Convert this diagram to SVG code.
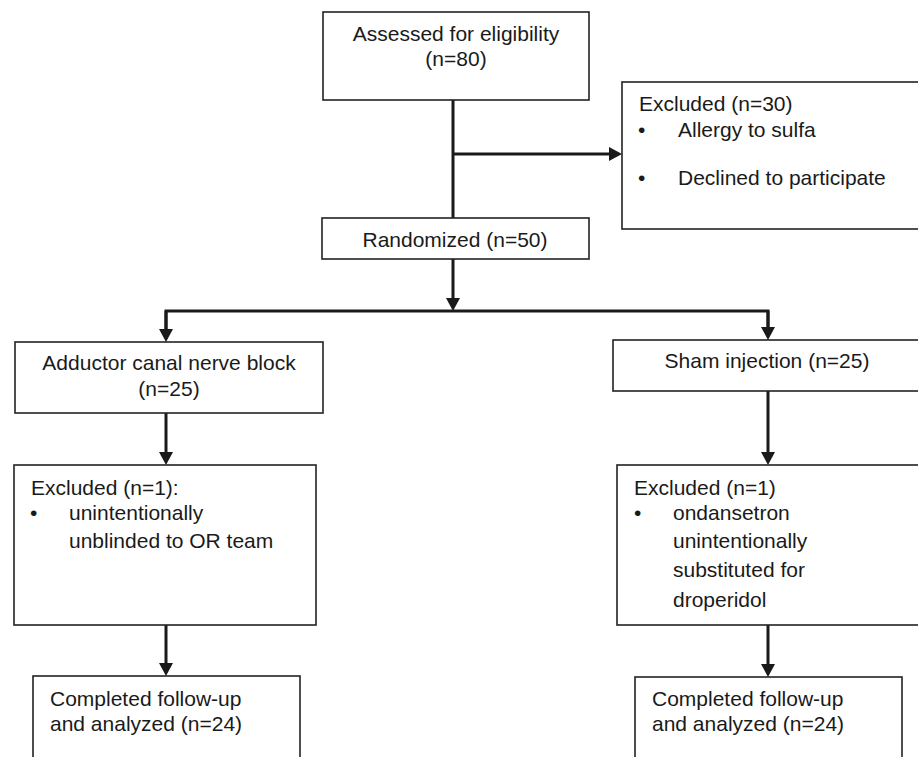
<svg xmlns="http://www.w3.org/2000/svg" width="918" height="757" viewBox="0 0 918 757">
<defs>
<style>
.box{fill:#fff;stroke:#222;stroke-width:1.6}
.t{font-family:"Liberation Sans",Arial,Helvetica,sans-serif;font-size:21px;fill:#1a1a1a}
.c{text-anchor:middle}
.ln{fill:none;stroke:#1a1a1a;stroke-width:3}
</style>
<marker id="ah" markerUnits="userSpaceOnUse" markerWidth="14" markerHeight="14" refX="1" refY="7" orient="auto">
<path d="M0,0 L13,7 L0,14 z" fill="#1a1a1a"/>
</marker>
</defs>
<rect width="918" height="757" fill="#fff"/>
<g id="connectors">
<path class="ln" d="M453,100 V218"/>
<path class="ln" d="M453,154 H610" marker-end="url(#ah)"/>
<path class="ln" d="M453,259 V299" marker-end="url(#ah)"/>
<path class="ln" d="M166,330 V311 H768 V328"/>
<path class="ln" d="M166,311 V330" marker-end="url(#ah)"/>
<path class="ln" d="M768,311 V328" marker-end="url(#ah)"/>
<path class="ln" d="M166,413 V453" marker-end="url(#ah)"/>
<path class="ln" d="M768,391 V453" marker-end="url(#ah)"/>
<path class="ln" d="M166,625 V664" marker-end="url(#ah)"/>
<path class="ln" d="M768,625 V665" marker-end="url(#ah)"/>
</g>
<g id="assessed">
<rect class="box" x="323" y="12" width="266" height="88"/>
<text class="t c" x="456" y="41">Assessed for eligibility</text>
<text class="t c" x="456" y="66">(n=80)</text>
</g>
<g id="excluded30">
<rect class="box" x="622" y="82" width="300" height="147"/>
<text class="t" x="639" y="111">Excluded (n=30)</text>
<text class="t" x="638" y="137">•</text>
<text class="t" x="678" y="137">Allergy to sulfa</text>
<text class="t" x="638" y="185">•</text>
<text class="t" x="678" y="185">Declined to participate</text>
</g>
<g id="randomized">
<rect class="box" x="322" y="218" width="267" height="41"/>
<text class="t c" x="455" y="247">Randomized (n=50)</text>
</g>
<g id="adductor">
<rect class="box" x="15" y="342" width="308" height="71"/>
<text class="t c" x="169" y="370">Adductor canal nerve block</text>
<text class="t c" x="169" y="396">(n=25)</text>
</g>
<g id="sham">
<rect class="box" x="613" y="340" width="310" height="51"/>
<text class="t c" x="767" y="368">Sham injection (n=25)</text>
</g>
<g id="excludedLeft">
<rect class="box" x="14" y="465" width="302" height="160"/>
<text class="t" x="31" y="495">Excluded (n=1):</text>
<text class="t" x="30" y="520">•</text>
<text class="t" x="69" y="520">unintentionally</text>
<text class="t" x="69" y="548">unblinded to OR team</text>
</g>
<g id="excludedRight">
<rect class="box" x="617" y="465" width="305" height="160"/>
<text class="t" x="634" y="495">Excluded (n=1)</text>
<text class="t" x="634" y="520">•</text>
<text class="t" x="673" y="520">ondansetron</text>
<text class="t" x="673" y="548">unintentionally</text>
<text class="t" x="673" y="577">substituted for</text>
<text class="t" x="673" y="607">droperidol</text>
</g>
<g id="completedLeft">
<rect class="box" x="33" y="676" width="267" height="95"/>
<text class="t" x="50" y="706">Completed follow-up</text>
<text class="t" x="50" y="731">and analyzed (n=24)</text>
</g>
<g id="completedRight">
<rect class="box" x="635" y="677" width="267" height="95"/>
<text class="t" x="652" y="706">Completed follow-up</text>
<text class="t" x="652" y="731">and analyzed (n=24)</text>
</g>
</svg>
